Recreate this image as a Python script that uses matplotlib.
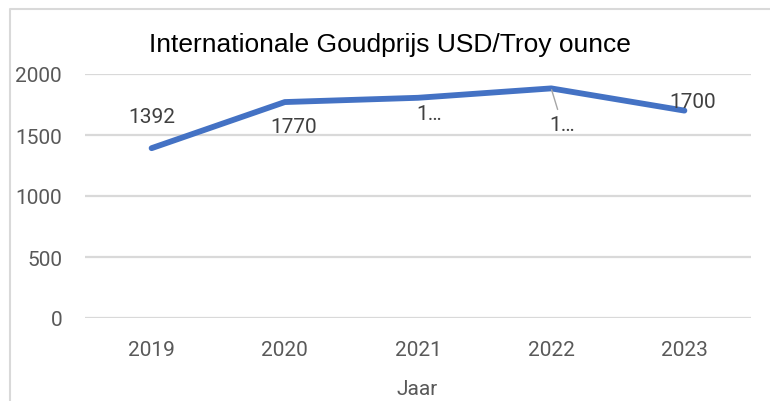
import matplotlib
matplotlib.use("Agg")
import matplotlib.pyplot as plt
from matplotlib.lines import Line2D

# data
years = ["2019", "2020", "2021", "2022", "2023"]
prices = [1392, 1770, 1805, 1882, 1700]
point_labels = ["1392", "1770", "1\u2026", "1\u2026", "1700"]
yticks = [0, 500, 1000, 1500, 2000]

W, H = 770, 402
fig = plt.figure(figsize=(W / 100, H / 100), dpi=100)
# plot area in pixels: x 85..751, y 75..319
ax = fig.add_axes([85 / W, (H - 319) / H, (751 - 85) / W, (319 - 75) / H])

xs = list(range(len(years)))
ax.plot(xs, prices, color="#4472C4", lw=4.2, solid_capstyle="round", solid_joinstyle="round", zorder=3)

ax.set_xlim(-0.5, len(years) - 0.5)
ax.set_ylim(0, 2000)
ax.set_xticks(xs)
ax.set_xticklabels(years)
ax.set_yticks(yticks)
ax.set_yticklabels([str(v) for v in yticks])
ax.tick_params(length=0, labelsize=15, labelcolor="#595959")
ax.tick_params(axis="x", pad=16)
ax.tick_params(axis="y", pad=16.5)
for lab in ax.get_xticklabels() + ax.get_yticklabels():
    lab.set_fontfamily("Roboto")
ax.grid(axis="y", color="#d9d9d9", lw=1.6)
ax.set_axisbelow(True)
for s in ax.spines.values():
    s.set_visible(False)

# data labels (offsets in pixels)
offsets = [(0, 32), (9, -24), (11, -16), (11, -36), (8, 9)]
for i, (x, y) in enumerate(zip(xs, prices)):
    kw = {}
    if i == 3:
        kw["arrowprops"] = dict(arrowstyle="-", color="#a6a6a6", lw=1, shrinkA=2, shrinkB=1)
    ax.annotate(point_labels[i], (x, y), xytext=offsets[i], textcoords="offset pixels",
                ha="center", va="center", fontsize=15, color="#404040",
                fontfamily="Roboto", zorder=4, **kw)

fig.text(390 / W, 1 - 45 / H, "Internationale Goudprijs USD/Troy ounce",
         ha="center", va="center", fontsize=19, color="black", fontfamily="Liberation Sans")
fig.text(417.5 / W, 1 - 390 / H, "Jaar", ha="center", va="center",
         fontsize=15, color="#595959", fontfamily="Roboto")

# chart border (left and top)
fig.add_artist(Line2D([9.5 / W, 9.5 / W, 1], [0, 1 - 10 / H, 1 - 10 / H],
                      transform=fig.transFigure, color="#d9d9d9", lw=1.5))

fig.savefig("out.png", dpi=100)
